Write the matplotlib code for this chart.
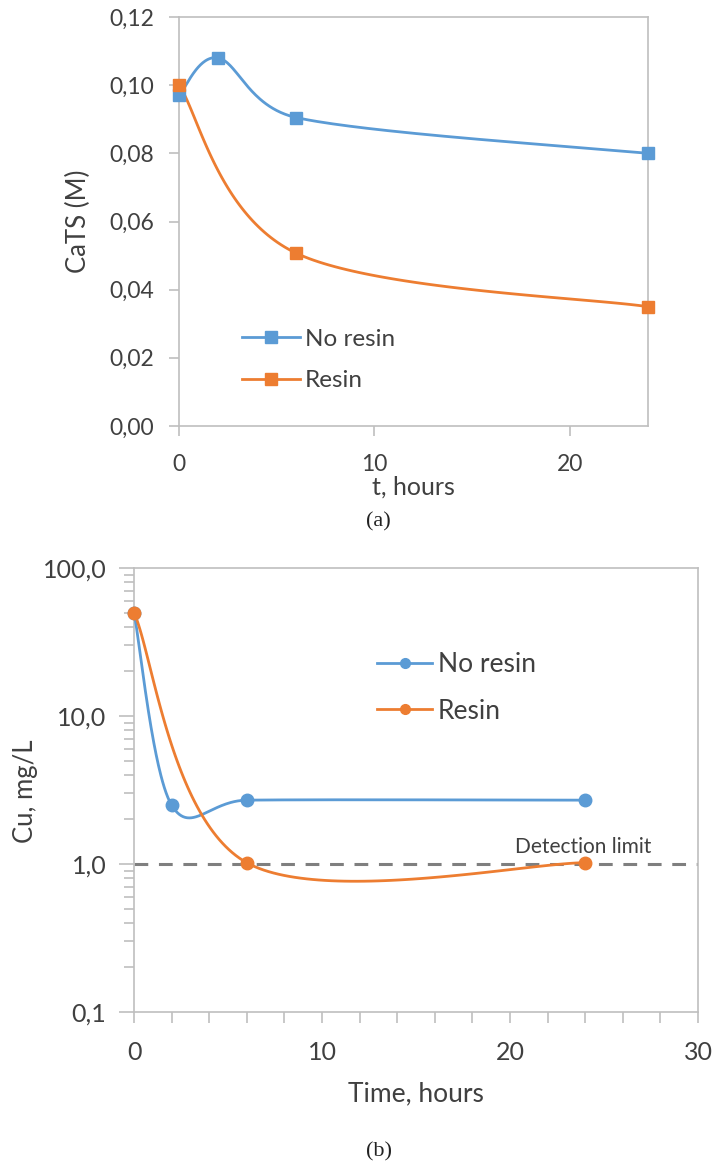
import numpy as np
import matplotlib
matplotlib.use("Agg")
import matplotlib.pyplot as plt
from matplotlib.ticker import FixedLocator, FuncFormatter, LogLocator, MultipleLocator, NullFormatter

plt.rcParams['font.family'] = ['Lato', 'DejaVu Sans']

# ---- data (a): CaTS concentration
t_a = [0, 2, 6, 24]
cats_noresin = [0.097, 0.108, 0.0905, 0.080]
t_a_resin = [0, 6, 24]
cats_resin = [0.100, 0.0507, 0.035]

# ---- data (b): Cu concentration
t_b = [0, 2, 6, 24]
cu_noresin = [50.0, 2.5, 2.7, 2.7]
t_b_resin = [0, 6, 24]
cu_resin = [50.0, 1.02, 1.02]
detection_limit = 1.0

blue = '#5B9BD5'
orange = '#ED7D31'
txt = '#404040'
spine = '#BFBFBF'

W, H = 716, 1169
fig = plt.figure(figsize=(W / 100, H / 100), dpi=100)


def excel_smooth(xs, ys, sx, sy, n=60):
    # excel-like bezier smoothing done in pixel space
    p = np.column_stack([np.asarray(xs, float) * sx, np.asarray(ys, float) * sy])
    out = [p[0]]
    for i in range(len(p) - 1):
        p0 = p[i - 1] if i > 0 else p[i]
        p1, p2 = p[i], p[i + 1]
        p3 = p[i + 2] if i + 2 < len(p) else p[i + 1]
        d12 = np.linalg.norm(p2 - p1)
        v1 = (p2 - p0) / 6.0
        v2 = (p3 - p1) / 6.0
        if np.linalg.norm(v1) > d12 / 2:
            v1 = v1 / np.linalg.norm(v1) * d12 / 2
        if np.linalg.norm(v2) > d12 / 2:
            v2 = v2 / np.linalg.norm(v2) * d12 / 2
        c1, c2 = p1 + v1, p2 - v2
        s = np.linspace(0, 1, n)[1:, None]
        seg = (1 - s) ** 3 * p1 + 3 * (1 - s) ** 2 * s * c1 + 3 * (1 - s) * s ** 2 * c2 + s ** 3 * p2
        out.extend(seg)
    out = np.array(out)
    return out[:, 0] / sx, out[:, 1] / sy


def comma(fmt):
    return FuncFormatter(lambda v, pos: (fmt % v).replace('.', ','))


# ================= (a) =================
axa = fig.add_axes([179 / W, 1 - 426 / H, 469 / W, 409 / H])
xa0, xa1, ya0, ya1 = 0, 24, 0, 0.12
axa.set_xlim(xa0, xa1)
axa.set_ylim(ya0, ya1)
sxa = 469 / (xa1 - xa0)
sya = 409 / (ya1 - ya0)

for xs, ys, c, lab in [(t_a, cats_noresin, blue, 'No resin'), (t_a_resin, cats_resin, orange, 'Resin')]:
    cx, cy = excel_smooth(xs, ys, sxa, sya)
    axa.plot(cx, cy, color=c, lw=2.0, zorder=3, clip_on=False)
    axa.plot(xs, ys, 's', color=c, ms=9, zorder=4, clip_on=False)
    axa.plot([], [], '-s', color=c, lw=2.0, ms=9, label=lab)

axa.yaxis.set_major_locator(MultipleLocator(0.02))
axa.yaxis.set_major_formatter(comma('%.2f'))
axa.xaxis.set_major_locator(FixedLocator([0, 10, 20]))
axa.tick_params(axis='both', colors=spine, labelcolor=txt, labelsize=16.5, length=7, width=1.2, direction='out')
axa.tick_params(axis='y', pad=11)
axa.tick_params(axis='x', pad=13)
for s in axa.spines.values():
    s.set_color(spine)
    s.set_linewidth(1.2)
axa.set_xlabel('t, hours', fontsize=18, color=txt, labelpad=0)
axa.xaxis.set_label_coords(0.5, (426 - 476) / 409)
axa.set_ylabel('CaTS (M)', fontsize=18.5, color=txt)
axa.yaxis.set_label_coords((91 - 179) / 469, 0.5)
axa.legend(loc='center left', bbox_to_anchor=((242 - 179) / 469, (426 - 360) / 409), frameon=False,
           fontsize=17.5, handlelength=2.4, handletextpad=0.2, labelspacing=0.85, borderpad=0, borderaxespad=0,
           labelcolor=txt)
fig.text(378 / W, 1 - 522 / H, '(a)', family='Liberation Serif', fontsize=16, ha='center', va='center', color='#222222')

# ================= (b) =================
axb = fig.add_axes([134 / W, 1 - 1012 / H, 564 / W, 444 / H])
xb0, xb1 = 0, 30
axb.set_yscale('log')
axb.set_xlim(xb0, xb1)
axb.set_ylim(0.1, 100)
sxb = 564 / (xb1 - xb0)
syb = 444 / 3.0

axb.axhline(detection_limit, color='#7F7F7F', lw=2.2, ls=(0, (4.5, 3.5)), zorder=2)
for xs, ys, c, lab in [(t_b, cu_noresin, blue, 'No resin'), (t_b_resin, cu_resin, orange, 'Resin')]:
    cx, cy = excel_smooth(xs, np.log10(ys), sxb, syb)
    axb.plot(cx, 10 ** cy, color=c, lw=2.0, zorder=3, clip_on=False)
    axb.plot(xs, ys, 'o', color=c, ms=9, zorder=4, clip_on=False)
    axb.plot([], [], '-o', color=c, lw=2.0, ms=7, label=lab)

axb.text(20.25, 1.30, 'Detection limit', fontsize=15, color=txt, ha='left', va='center')

axb.yaxis.set_major_locator(FixedLocator([0.1, 1, 10, 100]))
axb.yaxis.set_major_formatter(comma('%.1f'))
axb.yaxis.set_minor_locator(LogLocator(base=10, subs=np.arange(2, 10)))
axb.yaxis.set_minor_formatter(NullFormatter())
axb.xaxis.set_major_locator(FixedLocator([0, 10, 20, 30]))
axb.xaxis.set_minor_locator(MultipleLocator(2))
axb.tick_params(axis='both', which='both', colors=spine, labelcolor=txt, labelsize=18, width=1.2, direction='out')
axb.tick_params(axis='y', which='major', length=11, pad=9)
axb.tick_params(axis='y', which='minor', length=7)
axb.tick_params(axis='x', which='both', length=8, pad=13)
for s in axb.spines.values():
    s.set_color(spine)
    s.set_linewidth(1.2)
axb.set_xlabel('Time, hours', fontsize=19, color=txt)
axb.xaxis.set_label_coords(0.5, (1012 - 1081) / 444)
axb.set_ylabel('Cu, mg/L', fontsize=18.5, color=txt)
axb.yaxis.set_label_coords((38 - 134) / 564, (1012 - 791) / 444)
axb.legend(loc='center left', bbox_to_anchor=((377 - 134) / 564, (1012 - 688) / 444), frameon=False,
           fontsize=19, handlelength=2.1, handletextpad=0.2, labelspacing=0.8, borderpad=0, borderaxespad=0,
           labelcolor=txt)
fig.text(379 / W, 1 - 1152 / H, '(b)', family='Liberation Serif', fontsize=16, ha='center', va='center', color='#222222')

fig.savefig('out.png', dpi=100, facecolor='white')
